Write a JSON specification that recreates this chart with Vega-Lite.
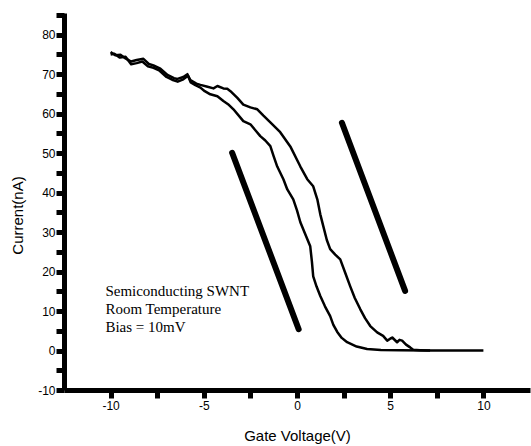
{
  "$schema": "https://vega.github.io/schema/vega-lite/v6.json",
  "autosize": "none",
  "width": 466,
  "height": 377,
  "padding": {"left": 64, "top": 13, "right": 1, "bottom": 56},
  "background": "white",
  "config": {
    "view": {"stroke": null},
    "axis": {
      "grid": false,
      "domainColor": "black",
      "domainWidth": 5,
      "tickColor": "black",
      "tickWidth": 5,
      "tickSize": 8,
      "labelFont": "Liberation Sans",
      "labelFontSize": 12,
      "labelColor": "black",
      "titleFont": "Liberation Sans",
      "titleFontSize": 15,
      "titleFontWeight": "normal",
      "titleColor": "black"
    }
  },
  "datasets": {
    "curves": [
      {"series": "A", "x": -10.0, "y": 75.6}, {"series": "A", "x": -9.75, "y": 74.8}, {"series": "A", "x": -9.47, "y": 74.9},
      {"series": "A", "x": -9.2, "y": 74.0}, {"series": "A", "x": -8.9, "y": 73.2}, {"series": "A", "x": -8.6, "y": 73.6},
      {"series": "A", "x": -8.24, "y": 73.9}, {"series": "A", "x": -7.95, "y": 72.6}, {"series": "A", "x": -7.7, "y": 72.2},
      {"series": "A", "x": -7.33, "y": 71.4}, {"series": "A", "x": -6.95, "y": 69.8}, {"series": "A", "x": -6.6, "y": 69.0},
      {"series": "A", "x": -6.41, "y": 68.8}, {"series": "A", "x": -6.1, "y": 69.3}, {"series": "A", "x": -5.88, "y": 70.0},
      {"series": "A", "x": -5.72, "y": 68.5}, {"series": "A", "x": -5.4, "y": 67.6}, {"series": "A", "x": -5.18, "y": 67.3},
      {"series": "A", "x": -4.85, "y": 66.9}, {"series": "A", "x": -4.48, "y": 66.4}, {"series": "A", "x": -4.27, "y": 67.0},
      {"series": "A", "x": -3.95, "y": 66.4}, {"series": "A", "x": -3.74, "y": 66.3}, {"series": "A", "x": -3.57, "y": 65.7},
      {"series": "A", "x": -3.2, "y": 64.0}, {"series": "A", "x": -2.88, "y": 62.3}, {"series": "A", "x": -2.5, "y": 61.6},
      {"series": "A", "x": -2.13, "y": 61.1}, {"series": "A", "x": -1.8, "y": 59.5}, {"series": "A", "x": -1.43, "y": 57.8},
      {"series": "A", "x": -0.9, "y": 55.3}, {"series": "A", "x": -0.36, "y": 51.7}, {"series": "A", "x": 0.18, "y": 46.6},
      {"series": "A", "x": 0.55, "y": 43.4}, {"series": "A", "x": 0.87, "y": 41.6}, {"series": "A", "x": 1.09, "y": 38.3},
      {"series": "A", "x": 1.25, "y": 34.5}, {"series": "A", "x": 1.41, "y": 31.5}, {"series": "A", "x": 1.6, "y": 28.0},
      {"series": "A", "x": 1.78, "y": 25.7}, {"series": "A", "x": 2.05, "y": 24.3}, {"series": "A", "x": 2.32, "y": 23.1},
      {"series": "A", "x": 2.6, "y": 19.5}, {"series": "A", "x": 2.85, "y": 16.3}, {"series": "A", "x": 3.1, "y": 13.3},
      {"series": "A", "x": 3.39, "y": 10.5}, {"series": "A", "x": 3.65, "y": 8.2}, {"series": "A", "x": 3.93, "y": 6.2},
      {"series": "A", "x": 4.3, "y": 4.6}, {"series": "A", "x": 4.62, "y": 3.7}, {"series": "A", "x": 4.84, "y": 2.5},
      {"series": "A", "x": 5.0, "y": 3.0}, {"series": "A", "x": 5.11, "y": 3.3}, {"series": "A", "x": 5.37, "y": 2.1},
      {"series": "A", "x": 5.5, "y": 2.7}, {"series": "A", "x": 5.64, "y": 2.5}, {"series": "A", "x": 5.85, "y": 1.5},
      {"series": "A", "x": 6.07, "y": 0.8}, {"series": "A", "x": 6.23, "y": 0.2}, {"series": "A", "x": 6.6, "y": 0.1},
      {"series": "A", "x": 7.14, "y": 0.0},
      {"series": "B", "x": -10.0, "y": 75.0}, {"series": "B", "x": -9.8, "y": 75.2}, {"series": "B", "x": -9.5, "y": 74.2},
      {"series": "B", "x": -9.2, "y": 74.4}, {"series": "B", "x": -8.9, "y": 72.5}, {"series": "B", "x": -8.6, "y": 72.8},
      {"series": "B", "x": -8.3, "y": 73.2}, {"series": "B", "x": -8.0, "y": 72.0}, {"series": "B", "x": -7.7, "y": 71.6},
      {"series": "B", "x": -7.4, "y": 71.0}, {"series": "B", "x": -7.0, "y": 69.3}, {"series": "B", "x": -6.7, "y": 68.6},
      {"series": "B", "x": -6.4, "y": 68.1}, {"series": "B", "x": -6.1, "y": 68.7}, {"series": "B", "x": -5.85, "y": 69.6},
      {"series": "B", "x": -5.7, "y": 67.9}, {"series": "B", "x": -5.45, "y": 67.2}, {"series": "B", "x": -5.18, "y": 66.6},
      {"series": "B", "x": -4.95, "y": 65.7}, {"series": "B", "x": -4.65, "y": 64.9}, {"series": "B", "x": -4.27, "y": 64.4},
      {"series": "B", "x": -3.95, "y": 63.2}, {"series": "B", "x": -3.7, "y": 62.4}, {"series": "B", "x": -3.41, "y": 61.1},
      {"series": "B", "x": -2.88, "y": 58.1}, {"series": "B", "x": -2.5, "y": 57.3}, {"series": "B", "x": -2.2, "y": 55.6},
      {"series": "B", "x": -1.97, "y": 54.3}, {"series": "B", "x": -1.7, "y": 53.2}, {"series": "B", "x": -1.43, "y": 51.8},
      {"series": "B", "x": -1.25, "y": 49.2}, {"series": "B", "x": -1.06, "y": 46.6}, {"series": "B", "x": -0.73, "y": 43.4},
      {"series": "B", "x": -0.52, "y": 40.8}, {"series": "B", "x": -0.2, "y": 38.3}, {"series": "B", "x": 0.0, "y": 35.5},
      {"series": "B", "x": 0.18, "y": 32.5}, {"series": "B", "x": 0.45, "y": 29.4}, {"series": "B", "x": 0.71, "y": 26.4},
      {"series": "B", "x": 0.8, "y": 22.5}, {"series": "B", "x": 0.87, "y": 18.8}, {"series": "B", "x": 1.05, "y": 16.2},
      {"series": "B", "x": 1.25, "y": 13.8}, {"series": "B", "x": 1.5, "y": 11.2}, {"series": "B", "x": 1.78, "y": 8.7},
      {"series": "B", "x": 1.95, "y": 6.5}, {"series": "B", "x": 2.16, "y": 4.7}, {"series": "B", "x": 2.4, "y": 3.2},
      {"series": "B", "x": 2.69, "y": 2.1}, {"series": "B", "x": 3.2, "y": 1.0}, {"series": "B", "x": 3.76, "y": 0.4},
      {"series": "B", "x": 4.5, "y": 0.15}, {"series": "B", "x": 5.52, "y": 0.05}, {"series": "B", "x": 7.0, "y": 0.0},
      {"series": "B", "x": 8.5, "y": 0.0}, {"series": "B", "x": 10.0, "y": 0.0}
    ],
    "bars": [
      {"seg": "left", "x": -3.48, "y": 50.1}, {"seg": "left", "x": 0.09, "y": 5.4},
      {"seg": "right", "x": 2.41, "y": 57.7}, {"seg": "right", "x": 5.8, "y": 15.1}
    ],
    "notes": [
      {"x": -10.28, "y": 15.0, "text": "Semiconducting SWNT"},
      {"x": -10.28, "y": 10.5, "text": "Room Temperature"},
      {"x": -10.28, "y": 5.9, "text": "Bias = 10mV"}
    ]
  },
  "encoding": {
    "x": {
      "field": "x", "type": "quantitative",
      "scale": {"domain": [-12.5, 12.5], "nice": false, "zero": false},
      "axis": {
        "title": "Gate Voltage(V)",
        "values": [-10, -7.5, -5, -2.5, 0, 2.5, 5, 7.5, 10],
        "labelExpr": "datum.value % 5 === 0 ? toString(datum.value) : ''",
        "labelPadding": 2,
        "titleX": 233, "titleY": 45, "titleBaseline": "middle", "titleAlign": "center"
      }
    },
    "y": {
      "field": "y", "type": "quantitative",
      "scale": {"domain": [-10, 85.5], "nice": false, "zero": false},
      "axis": {
        "title": "Current(nA)",
        "values": [-10, -5, 0, 5, 10, 15, 20, 25, 30, 35, 40, 45, 50, 55, 60, 65, 70, 75, 80, 85],
        "labelExpr": "datum.value % 10 === 0 ? toString(datum.value) : ''",
        "labelPadding": 1,
        "titleX": -47, "titleY": 202, "titleAngle": -90, "titleBaseline": "middle", "titleAlign": "center"
      }
    }
  },
  "layer": [
    {
      "data": {"name": "curves"},
      "mark": {"type": "line", "color": "black", "strokeWidth": 2.5, "strokeJoin": "round"},
      "encoding": {"detail": {"field": "series"}}
    },
    {
      "data": {"name": "bars"},
      "mark": {"type": "line", "color": "black", "strokeWidth": 6, "strokeCap": "round"},
      "encoding": {"detail": {"field": "seg"}}
    },
    {
      "data": {"name": "notes"},
      "mark": {"type": "text", "align": "left", "baseline": "middle", "font": "Liberation Serif", "fontSize": 15, "color": "black"},
      "encoding": {"text": {"field": "text"}}
    }
  ]
}
